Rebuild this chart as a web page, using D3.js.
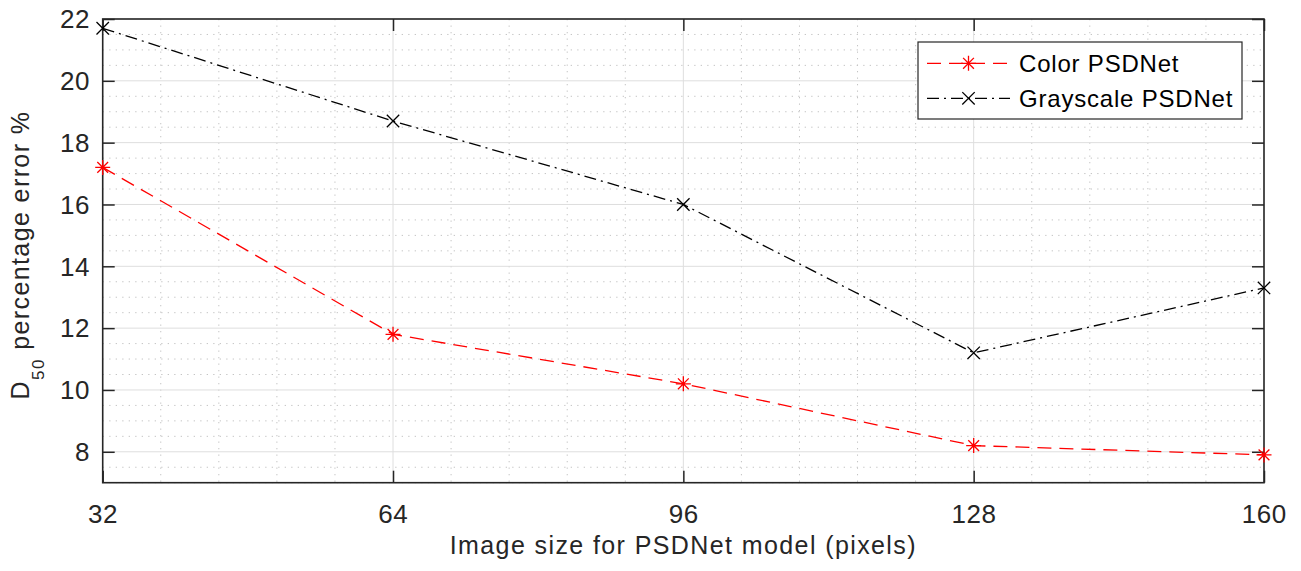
<!DOCTYPE html>
<html>
<head>
<meta charset="utf-8">
<script src="https://cdn.jsdelivr.net/npm/d3@7"></script>
<style>
	body { margin: 0; background: #fff; }
	text { font-family: "Liberation Sans", Arial, Helvetica, sans-serif; fill: #262626; }
</style>
</head>
<body>
<svg id="chart" width="1301" height="571"></svg>
<script>

var imageSizes = [32, 64, 96, 128, 160];
var colorErr = [17.2, 11.8, 10.2, 8.2, 7.9];
var grayErr = [21.7, 18.7, 16.0, 11.2, 13.3];
var yTicks = [8, 10, 12, 14, 16, 18, 20, 22];
var seriesNames = ["Color PSDNet", "Grayscale PSDNet"];

// plot box (window.top is reserved, so pTop etc.)
var pLeft = 102.7, pRight = 1264, pTop = 19, pBottom = 482.7;

var svg = d3.select("#chart");

var x = d3.scaleLinear().domain([32, 160]).range([pLeft, pRight]);
var y = d3.scaleLinear().domain([7, 22]).range([pBottom, pTop]);

// minor grid: 4 between each x major, every 0.5 on y
var xMinor = [];
imageSizes.slice(0, -1).forEach(function(v) {
	for (var k = 1; k < 5; k++) xMinor.push(v + k * 6.4);
});
var yMinor = d3.range(7, 22, 0.5).filter(function(v) { return v % 2 != 0; });

var grid = svg.append("g").attr("class", "grid");

grid.selectAll("line.xmin")
.data(xMinor).enter().append("line")
.attr("x1", x).attr("x2", x)
.attr("y1", pTop).attr("y2", pBottom)
.attr("stroke", "#c4c4c4")
.attr("stroke-dasharray", "1.3,5.2");

grid.selectAll("line.ymin")
.data(yMinor).enter().append("line")
.attr("x1", pLeft).attr("x2", pRight)
.attr("y1", y).attr("y2", y)
.attr("stroke", "#c4c4c4")
.attr("stroke-dasharray", "1.3,5.2");

grid.selectAll("line.xmaj")
.data(imageSizes).enter().append("line")
.attr("x1", x).attr("x2", x)
.attr("y1", pTop).attr("y2", pBottom)
.attr("stroke", "#dedede");

grid.selectAll("line.ymaj")
.data(yTicks).enter().append("line")
.attr("x1", pLeft).attr("x2", pRight)
.attr("y1", y).attr("y2", y)
.attr("stroke", "#dedede");

// axes, ticks drawn inward on all four sides
var axisCol = "#262626";
var tick = 12;

function styleAxis(g)
{
	g.select(".domain").remove();
	g.selectAll("line").attr("stroke", axisCol).attr("stroke-width", 1.5);
}

svg.append("g")
.attr("transform", "translate(0," + pBottom + ")")
.call(d3.axisBottom(x).tickValues(imageSizes).tickSizeInner(-tick).tickSizeOuter(0).tickFormat(""))
.call(styleAxis);

svg.append("g")
.attr("transform", "translate(0," + pTop + ")")
.call(d3.axisTop(x).tickValues(imageSizes).tickSizeInner(-tick).tickSizeOuter(0).tickFormat(""))
.call(styleAxis);

svg.append("g")
.attr("transform", "translate(" + pLeft + ",0)")
.call(d3.axisLeft(y).tickValues(yTicks).tickSizeInner(-tick).tickSizeOuter(0).tickFormat(""))
.call(styleAxis);

svg.append("g")
.attr("transform", "translate(" + pRight + ",0)")
.call(d3.axisRight(y).tickValues(yTicks).tickSizeInner(-tick).tickSizeOuter(0).tickFormat(""))
.call(styleAxis);

svg.append("rect")
.attr("x", pLeft).attr("y", pTop)
.attr("width", pRight - pLeft).attr("height", pBottom - pTop)
.attr("fill", "none")
.attr("stroke", axisCol)
.attr("stroke-width", 1.6);

// tick labels
svg.selectAll("text.xl")
.data(imageSizes).enter().append("text")
.attr("x", function(d) { return x(d) + 0.3; })
.attr("y", 523)
.attr("text-anchor", "middle")
.attr("font-size", 26)
.attr("letter-spacing", 0.5)
.text(function(d) { return d; });

svg.selectAll("text.yl")
.data(yTicks).enter().append("text")
.attr("x", 90)
.attr("y", function(d) { return y(d) + 9.3; })
.attr("text-anchor", "end")
.attr("font-size", 26)
.attr("letter-spacing", 0.5)
.text(function(d) { return d; });

// axis titles
svg.append("text")
.attr("x", (pLeft + pRight) / 2)
.attr("y", 554)
.attr("text-anchor", "middle")
.attr("font-size", 25)
.attr("letter-spacing", 1.4)
.text("Image size for PSDNet model (pixels)");

var ylab = svg.append("text")
.attr("transform", "translate(28.5,255) rotate(-90)")
.attr("text-anchor", "middle")
.attr("font-size", 25)
.attr("letter-spacing", 1.4);
ylab.append("tspan").text("D");
ylab.append("tspan").attr("dy", 15).attr("font-size", 17).text("50");
ylab.append("tspan").attr("dy", -15).text(" percentage error %");

// series
var line = d3.line()
.x(function(d, i) { return x(imageSizes[i]); })
.y(function(d) { return y(d); });

var colorDash = "14,8";
var grayDash = "12,5,2,5";

svg.append("path")
.datum(colorErr)
.attr("d", line)
.attr("fill", "none")
.attr("stroke", "#ff0000")
.attr("stroke-width", 1.3)
.attr("stroke-dasharray", colorDash);

svg.append("path")
.datum(grayErr)
.attr("d", line)
.attr("fill", "none")
.attr("stroke", "#000")
.attr("stroke-width", 1.3)
.attr("stroke-dasharray", grayDash);

function star(g, cx, cy, r, col)
{
	var d = "M" + (cx - r) + "," + cy + "H" + (cx + r)
		+ "M" + cx + "," + (cy - r) + "V" + (cy + r)
		+ "M" + (cx - r * 0.72) + "," + (cy - r * 0.72) + "L" + (cx + r * 0.72) + "," + (cy + r * 0.72)
		+ "M" + (cx - r * 0.72) + "," + (cy + r * 0.72) + "L" + (cx + r * 0.72) + "," + (cy - r * 0.72);
	g.append("path").attr("d", d).attr("stroke", col).attr("stroke-width", 1.3).attr("fill", "none");
}

function cross(g, cx, cy, r, col)
{
	var d = "M" + (cx - r) + "," + (cy - r) + "L" + (cx + r) + "," + (cy + r)
		+ "M" + (cx - r) + "," + (cy + r) + "L" + (cx + r) + "," + (cy - r);
	g.append("path").attr("d", d).attr("stroke", col).attr("stroke-width", 1.3).attr("fill", "none");
}

var marks = svg.append("g");
colorErr.forEach(function(v, i) { star(marks, x(imageSizes[i]), y(v), 7.5, "#ff0000"); });
grayErr.forEach(function(v, i) { cross(marks, x(imageSizes[i]), y(v), 6.2, "#000"); });

// legend
var lg = svg.append("g");
lg.append("rect")
.attr("x", 918).attr("y", 42)
.attr("width", 324).attr("height", 77)
.attr("fill", "#fff")
.attr("stroke", axisCol)
.attr("stroke-width", 1.2);

var rows = [
	{ name: seriesNames[0], col: "#ff0000", dash: colorDash, y: 63.3, mk: star, r: 7.5 },
	{ name: seriesNames[1], col: "#000", dash: grayDash, y: 98.3, mk: cross, r: 6.2 }
];
rows.forEach(function(r) {
	lg.append("line")
	.attr("x1", 927).attr("x2", 1010)
	.attr("y1", r.y).attr("y2", r.y)
	.attr("stroke", r.col)
	.attr("stroke-width", 1.3)
	.attr("stroke-dasharray", r.dash);
	r.mk(lg, 968.5, r.y, r.r, r.col);
	lg.append("text")
	.attr("x", 1019)
	.attr("y", r.y + 8.6)
	.attr("font-size", 24)
	.attr("letter-spacing", 0.8)
	.style("fill", "#000")
	.text(r.name);
});

</script>
</body>
</html>
